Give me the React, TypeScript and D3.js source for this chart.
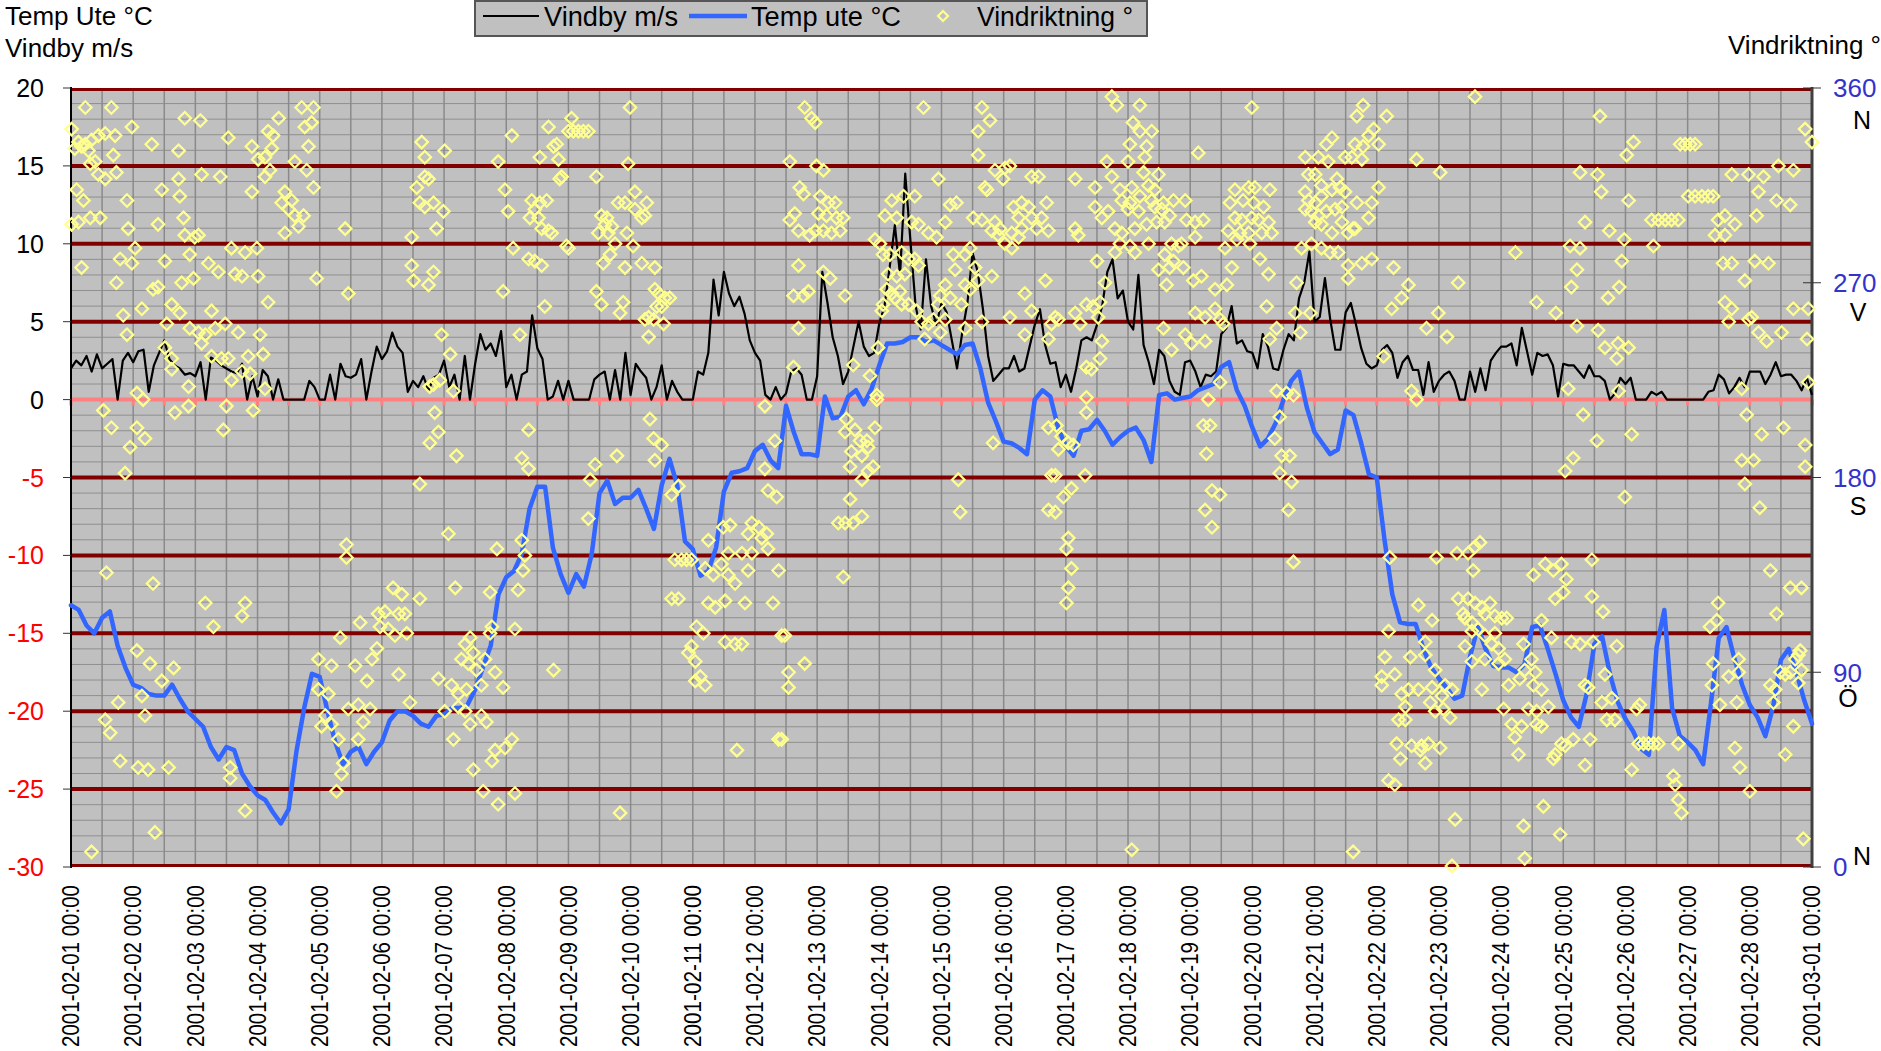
import React, { useEffect, useRef } from 'react';
import * as d3 from 'd3';

// x axis: one label per day, 2001-02-01 .. 2001-03-01
const dayLabels = [
  '2001-02-01 00:00', '2001-02-02 00:00', '2001-02-03 00:00', '2001-02-04 00:00', '2001-02-05 00:00',
  '2001-02-06 00:00', '2001-02-07 00:00', '2001-02-08 00:00', '2001-02-09 00:00', '2001-02-10 00:00',
  '2001-02-11 00:00', '2001-02-12 00:00', '2001-02-13 00:00', '2001-02-14 00:00', '2001-02-15 00:00',
  '2001-02-16 00:00', '2001-02-17 00:00', '2001-02-18 00:00', '2001-02-19 00:00', '2001-02-20 00:00',
  '2001-02-21 00:00', '2001-02-22 00:00', '2001-02-23 00:00', '2001-02-24 00:00', '2001-02-25 00:00',
  '2001-02-26 00:00', '2001-02-27 00:00', '2001-02-28 00:00', '2001-03-01 00:00',
];

const leftTicks = [20, 15, 10, 5, 0, -5, -10, -15, -20, -25, -30];
const majorLines = [15, 10, 5, -5, -10, -15, -20, -25];
const rightTicks = [0, 90, 180, 270, 360];
const compassDeg = [360, 270, 180, 90, 0];
const compassLabels = ['N', 'V', 'S', 'Ö', 'N'];

// Vindby m/s, one value every 2 hours
const WIND_STEP_H = 2;
const windMs = [
  2.0, 2.5, 2.2, 2.8, 1.8, 2.9, 2.0, 2.3, 2.6, 0,
  2.5, 3.0, 2.4, 3.1, 3.2, 0.5, 2.2, 3.0, 3.8, 2.6,
  2.2, 2.0, 1.6, 1.7, 1.5, 2.4, 0, 2.7, 2.5, 2.2,
  2.0, 1.8, 1.7, 2.3, 0, 1.5, 0.2, 1.9, 1.5, 0,
  1.3, 0, 0, 0, 0, 0, 1.2, 0.8, 0, 0,
  1.6, 0, 2.3, 1.5, 1.4, 1.6, 2.6, 0, 1.8, 3.4,
  2.6, 3.1, 4.3, 3.4, 3.0, 0.5, 1.2, 0.8, 1.5, 0.6,
  1.4, 1.6, 2.5, 0.8, 1.6, 0, 2.8, 0, 2.3, 4.2,
  3.2, 3.6, 2.8, 4.4, 0.8, 1.6, 0, 1.6, 1.8, 5.4,
  3.3, 2.6, 0, 0.2, 1.2, 0, 1.2, 0, 0, 0,
  0, 1.3, 1.6, 1.8, 0, 1.9, 0, 3.0, 0.3, 2.3,
  1.8, 1.4, 0, 0.8, 2.2, 0, 1.2, 0.5, 0, 0,
  0, 1.8, 1.6, 3.0, 7.7, 5.4, 8.2, 6.8, 6.0, 6.6,
  5.5, 3.8, 3.0, 2.5, 0.3, 0, 0.8, 0, 0.4, 1.8,
  2.0, 1.6, 0, 0, 1.5, 8.2, 6.2, 4.0, 2.8, 1.0,
  1.8, 3.4, 5.0, 3.4, 2.8, 3.0, 4.9, 6.0, 8.5, 11.2,
  8.0, 14.5, 10.2, 6.0, 4.5, 9.0, 6.0, 4.8, 6.2, 5.6,
  3.8, 2.0, 4.3, 6.2, 9.4, 8.2, 5.8, 2.8, 1.2, 1.6,
  2.0, 2.0, 2.8, 1.8, 2.0, 3.4, 4.8, 5.8, 3.5, 2.3,
  2.4, 0.8, 1.6, 0.5, 2.0, 3.8, 4.0, 3.8, 4.8, 6.0,
  8.2, 9.0, 6.5, 7.0, 5.0, 4.5, 8.0, 3.5, 2.4, 1.0,
  3.2, 2.8, 1.2, 0.5, 0.3, 2.4, 2.5, 1.8, 0.8, 1.6,
  1.5, 1.8, 4.2, 4.6, 6.0, 3.6, 3.8, 3.1, 3.0, 2.0,
  4.2, 3.4, 2.0, 1.9, 3.2, 4.2, 3.8, 6.5, 7.5, 9.5,
  5.0, 5.3, 7.8, 5.2, 3.2, 3.2, 5.6, 6.2, 4.8, 3.3,
  2.3, 2.0, 2.2, 3.2, 3.5, 3.0, 1.4, 2.4, 2.8, 1.9,
  1.9, 0.3, 2.4, 0.5, 1.2, 1.6, 1.8, 1.2, 0, 0,
  1.8, 0.5, 2.0, 0.6, 2.5, 3.0, 3.4, 3.4, 3.6, 2.2,
  4.6, 3.1, 1.6, 3.0, 2.8, 2.9, 2.2, 0.2, 2.3, 2.2,
  2.2, 1.8, 1.4, 2.2, 1.5, 1.5, 1.2, 0, 0.4, 1.4,
  1.0, 1.4, 0, 0, 0, 0.5, 0.3, 0.5, 0, 0,
  0, 0, 0, 0, 0, 0, 0.5, 0.6, 1.6, 1.3,
  0.4, 0.8, 1.4, 0.8, 1.8, 1.8, 1.8, 1.0, 1.6, 2.4,
  1.5, 1.6, 1.6, 1.2, 0.6, 1.4, 0.3,
];

// Temp ute °C, one value every 3 hours
const TEMP_STEP_H = 3;
const tempC = [
  -13.2, -13.5, -14.5, -15.0, -14.0, -13.6, -15.8, -17.2,
  -18.3, -18.5, -18.9, -19.0, -19.0, -18.3, -19.2, -20.0,
  -20.5, -21.0, -22.3, -23.1, -22.3, -22.5, -24.0, -24.8,
  -25.4, -25.7, -26.5, -27.2, -26.3, -22.6, -19.8, -17.6,
  -17.8, -20.0, -22.0, -23.4, -22.6, -22.3, -23.4, -22.6,
  -22.0, -20.6, -20.0, -20.0, -20.3, -20.8, -21.0, -20.3,
  -20.2, -19.8, -19.8, -19.6, -18.6, -17.2, -15.8, -12.5,
  -11.4, -11.0, -9.9, -7.0, -5.6, -5.6, -9.5, -11.2,
  -12.4, -11.2, -12.0, -9.9, -6.0, -5.2, -6.7, -6.3,
  -6.3, -5.8, -7.0, -8.3, -5.5, -3.8, -5.5, -9.1,
  -9.6, -11.3, -11.0, -9.5, -5.9, -4.7, -4.6, -4.4,
  -3.3, -2.9, -3.9, -4.4, -0.4, -2.1, -3.5, -3.5,
  -3.6, 0.2, -1.2, -1.1, 0.2, 0.6, -0.3, 0.7,
  2.2, 3.6, 3.6, 3.7, 4.0, 4.0, 3.7, 3.8,
  3.5, 3.2, 2.9, 3.5, 3.6, 2.0, -0.2, -1.4,
  -2.7, -2.8, -3.1, -3.5, 0.0, 0.6, 0.2, -1.8,
  -3.0, -3.6, -2.0, -1.9, -1.3, -2.0, -2.9, -2.4,
  -2.0, -1.8, -2.6, -4.0, 0.3, 0.4, 0.0, 0.1,
  0.2, 0.6, 0.8, 1.0, 2.1, 2.4, 0.6, -0.4,
  -1.8, -3.0, -2.5, -1.5, 0.0, 1.2, 1.8, -0.5,
  -2.1, -2.8, -3.5, -3.2, -0.7, -1.0, -2.8, -4.8,
  -5.0, -9.0, -12.5, -14.3, -14.4, -14.4, -16.0, -17.2,
  -17.9, -18.5, -19.2, -19.0, -16.5, -14.6, -16.0, -17.1,
  -17.2, -17.2, -17.5, -17.0, -14.6, -14.5, -16.0, -17.6,
  -19.3, -20.4, -21.0, -18.9, -15.7, -15.2, -17.6, -19.4,
  -20.5, -21.3, -22.4, -22.8, -15.9, -13.5, -19.8, -21.6,
  -22.0, -22.5, -23.4, -19.5, -15.3, -14.6, -16.6, -18.3,
  -19.6, -20.4, -21.6, -19.7, -16.7, -16.0, -17.5, -19.3,
  -20.8,
];

// Vindriktning °: [day since 2001-02-01, degrees]
const windDir: [number, number][] = [
  [0.23,351],[0.65,351],[0.01,341],[0.98,342],[1.83,346],[2.08,345],[2.53,337],[0.12,335],[0.23,334],[0.33,336],
  [0.44,338],[0.55,339],[0.71,338],[0.06,332],[0.17,333],[0.28,331],[0.39,326],[0.68,329],[1.30,334],[1.73,331],
  [2.91,333],[3.01,327],[3.17,340],[3.25,338],[3.34,346],[3.23,332],[3.12,328],[3.71,351],[3.90,351],[3.76,342],
  [3.87,344],[3.82,333],[3.60,326],[3.79,322],[0.31,325],[0.44,320],[0.55,318],[0.73,321],[2.10,320],[2.40,319],
  [3.20,322],[3.12,319],[3.90,314],[0.09,313],[0.20,308],[0.90,308],[1.46,313],[1.73,318],[1.75,310],[2.91,312],
  [3.44,312],[3.39,307],[3.55,308],[3.50,304],[3.60,301],[3.66,296],[3.74,301],[3.44,293],[4.41,295],[5.48,291],
  [0.01,297],[0.12,298],[0.31,300],[0.47,300],[0.92,295],[1.40,297],[1.81,300],[1.83,292],[1.99,291],[2.05,292],
  [1.03,286],[0.17,277],[0.79,281],[0.98,279],[1.51,280],[1.91,283],[2.21,279],[2.37,275],[2.58,286],[2.80,284],
  [2.99,286],[2.64,274],[2.75,273],[3.01,273],[0.73,270],[1.32,267],[1.40,268],[1.78,270],[1.97,272],[3.17,261],
  [3.95,272],[4.46,265],[5.48,278],[5.51,271],[1.62,260],[1.75,256],[1.14,258],[0.84,255],[0.90,246],[1.54,251],
  [2.26,257],[1.91,249],[2.05,247],[2.16,246],[2.32,249],[2.48,251],[2.69,247],[3.04,246],[1.51,240],[1.62,235],
  [2.10,242],[2.26,236],[2.42,235],[2.53,235],[2.85,236],[3.09,237],[1.62,230],[2.58,225],[2.75,229],[2.88,228],
  [3.12,221],[1.89,222],[1.06,219],[1.16,216],[0.52,211],[1.67,210],[1.89,213],[2.50,213],[2.93,211],[0.65,203],
  [1.06,203],[1.19,198],[0.95,194],[2.45,202],[0.87,182],[4.43,149],[4.43,143],[0.57,136],[1.32,131],[2.16,122],
  [2.80,122],[2.75,116],[2.29,111],[5.18,129],[5.32,126],[4.94,117],[5.05,118],[5.27,117],[5.37,117],[4.65,113],
  [4.97,111],[5.10,110],[5.21,107],[5.40,108],[4.33,106],[1.06,100],[1.27,94],[1.65,92],[1.46,86],[1.14,79],
  [0.76,76],[1.19,70],[3.98,96],[4.19,93],[4.57,93],[4.84,96],[4.76,86],[4.92,101],[5.27,89],[3.98,82],
  [4.14,80],[4.09,70],[4.19,66],[4.46,73],[4.62,75],[4.81,73],[4.03,65],[4.30,59],[4.62,59],[4.70,67],
  [5.45,76],[0.55,68],[0.63,62],[0.79,49],[1.08,46],[1.24,45],[1.57,46],[2.56,46],[2.56,41],[4.38,48],
  [4.35,43],[4.27,35],[2.80,26],[1.35,16],[0.33,7],
  [8.05,346],[7.68,342],[7.09,338],[8.00,340],[8.08,340],[8.16,340],[8.24,340],[8.32,340],[7.81,334],[7.76,333],
  [7.84,327],[7.54,328],[8.99,351],[8.96,325],[5.64,335],[5.69,328],[6.01,331],[6.87,326],[8.45,319],[7.89,319],
  [7.86,318],[5.75,318],[5.69,319],[5.56,314],[5.61,307],[5.69,305],[5.83,307],[5.99,303],[5.88,295],[6.98,313],
  [7.03,303],[7.41,308],[7.54,307],[7.65,308],[7.46,304],[7.38,300],[7.52,300],[7.57,295],[7.68,294],[7.73,293],
  [8.80,307],[8.91,307],[9.07,312],[9.26,307],[9.07,304],[9.18,300],[9.23,301],[8.53,301],[8.62,300],[8.59,297],
  [8.70,296],[8.48,293],[8.64,293],[8.75,288],[8.94,293],[9.04,287],[7.11,286],[7.97,287],[8.00,286],[5.83,275],
  [5.75,269],[7.36,281],[7.46,280],[7.57,278],[8.56,279],[8.67,283],[8.91,277],[9.18,279],[9.39,277],[6.95,266],
  [7.62,259],[8.45,266],[8.53,260],[8.88,261],[8.83,256],[9.39,267],[9.45,265],[9.55,263],[9.63,263],[9.42,259],
  [9.50,259],[9.29,254],[9.23,253],[9.37,253],[9.53,251],[5.96,246],[7.22,246],[9.29,245],[6.10,237],[5.93,225],
  [5.83,223],[6.15,220],[5.77,222],[5.85,210],[5.91,201],[5.77,196],[6.20,190],[7.36,202],[7.25,189],[7.36,184],
  [8.35,179],[8.43,186],[8.78,190],[9.31,207],[9.37,198],[9.50,195],[9.39,188],[9.66,172],[9.77,176],[5.61,177],
  [6.07,154],[8.32,161],[6.85,147],[7.25,151],[7.30,144],[7.27,137],[9.71,142],[9.82,142],[9.90,142],[9.98,142],
  [10.25,151],[10.49,157],[10.60,158],[10.89,154],[10.95,159],[11.06,157],[11.11,152],[10.57,145],[10.79,145],[10.95,145],
  [10.20,138],[10.33,135],[10.46,140],[10.57,135],[10.68,131],[10.89,137],[5.61,124],[6.18,129],[6.74,127],[7.19,128],
  [9.66,124],[9.77,124],[10.25,122],[10.36,120],[10.52,123],[10.84,122],[10.06,111],[10.17,108],[7.14,110],[6.77,111],
  [6.74,108],[6.42,106],[6.34,103],[10.52,104],[10.68,103],[10.79,103],[9.93,99],[9.98,102],[10.04,95],[10.12,88],
  [10.04,86],[10.20,84],[7.76,91],[6.95,83],[6.60,84],[6.28,96],[6.39,94],[6.47,99],[6.52,91],[6.66,96],
  [6.82,90],[5.91,87],[6.12,84],[6.23,80],[6.36,82],[6.01,72],[6.23,74],[6.34,72],[6.60,70],[6.68,67],
  [6.42,66],[6.15,59],[6.82,54],[7.09,59],[6.98,55],[6.77,49],[6.47,45],[6.63,35],[6.87,29],[7.14,34],
  [10.71,54],[8.83,25],
  [11.80,351],[11.91,346],[11.97,344],[13.71,351],[14.65,351],[14.78,345],[14.59,340],[14.59,329],[11.56,326],[11.99,324],
  [12.10,322],[13.95,318],[14.86,322],[15.02,323],[15.10,324],[14.99,318],[15.45,319],[15.56,319],[16.15,318],[16.66,326],
  [16.74,319],[16.74,356],[16.82,352],[16.47,314],[11.72,314],[11.78,311],[11.64,302],[11.56,299],[11.70,294],[12.05,310],
  [12.18,307],[12.29,307],[12.02,302],[12.15,301],[12.31,300],[12.42,300],[11.97,294],[12.10,294],[12.23,293],[12.37,294],
  [11.88,292],[13.20,308],[13.39,310],[13.57,310],[13.09,301],[13.28,300],[13.52,298],[13.63,297],[13.79,293],[13.92,291],
  [14.06,298],[14.14,306],[14.24,307],[14.51,300],[14.65,299],[14.73,313],[14.70,314],[14.86,298],[14.94,295],[15.16,305],
  [15.29,307],[15.40,305],[15.69,307],[15.61,300],[15.24,300],[15.45,300],[15.53,295],[15.29,295],[15.13,293],[15.24,291],
  [15.02,288],[14.91,292],[14.81,294],[15.13,286],[15.72,294],[16.15,295],[16.20,292],[16.47,305],[16.58,300],[16.68,303],
  [16.79,295],[16.79,284],[16.50,280],[12.93,290],[13.01,288],[13.06,283],[13.17,283],[13.36,284],[13.47,281],[13.57,281],
  [13.63,278],[13.41,274],[13.28,273],[13.14,274],[13.12,267],[13.20,265],[13.33,266],[13.25,263],[13.36,260],[13.47,260],
  [13.60,257],[13.68,252],[13.79,251],[13.95,260],[13.98,264],[14.06,269],[14.14,263],[14.22,276],[14.19,283],[14.38,283],
  [14.46,286],[14.54,277],[14.59,271],[14.46,267],[14.38,269],[14.32,260],[14.38,249],[14.65,252],[13.87,253],[14.06,253],
  [13.98,247],[13.73,244],[13.04,257],[13.06,260],[12.98,240],[11.70,278],[11.86,266],[11.78,264],[11.62,264],[12.45,264],
  [12.10,275],[12.21,272],[11.70,249],[14.81,273],[15.34,265],[15.45,257],[15.67,271],[15.88,253],[15.72,244],[15.77,251],
  [15.10,254],[15.34,246],[15.83,254],[16.15,256],[16.23,251],[16.33,260],[16.44,259],[16.52,254],[16.63,270],[16.55,261],
  [16.58,243],[16.55,235],[16.41,230],[16.33,231],[16.33,217],[16.33,210],[11.62,231],[12.58,232],[12.85,227],[12.96,218],
  [12.96,216],[11.16,213],[11.32,197],[12.47,207],[12.45,201],[12.61,202],[12.69,197],[12.80,197],[12.93,203],[12.55,192],
  [12.72,190],[12.82,194],[12.90,185],[12.72,179],[12.53,185],[12.82,183],[11.16,184],[11.21,174],[11.35,171],[12.53,170],
  [12.45,159],[12.58,159],[12.34,159],[12.72,162],[14.83,196],[15.72,203],[15.85,204],[15.93,199],[15.88,193],[16.04,196],
  [16.12,195],[14.27,179],[14.30,164],[15.77,181],[15.83,181],[16.31,181],[15.96,171],[16.09,175],[15.72,165],[15.83,164],
  [11.19,154],[11.21,147],[11.38,137],[11.29,122],[12.42,134],[16.04,152],[16.01,147],[16.09,138],[16.04,129],[16.01,122],
  [11.43,107],[11.48,107],[11.54,90],[11.80,94],[11.54,83],[11.38,59],[11.43,59],
  [17.19,352],[18.99,351],[17.08,344],[17.19,340],[17.38,340],[17.03,334],[17.30,333],[17.00,326],[17.27,328],[18.13,330],
  [17.25,321],[17.49,320],[16.87,313],[17.06,314],[17.33,315],[17.43,313],[16.90,308],[17.03,307],[17.19,310],[17.38,308],
  [17.57,307],[17.73,308],[17.92,308],[17.00,304],[17.17,303],[17.43,305],[17.54,304],[17.67,301],[16.90,293],[17.11,295],
  [17.30,297],[17.46,298],[17.59,298],[17.94,299],[18.08,298],[18.21,299],[16.87,288],[17.03,287],[17.33,288],[17.70,288],
  [17.81,287],[17.86,288],[18.08,291],[17.11,284],[17.59,283],[17.73,280],[17.49,276],[17.67,277],[17.89,277],[17.62,269],
  [18.05,271],[18.18,273],[18.67,277],[18.40,267],[18.59,269],[18.72,313],[18.94,314],[19.04,314],[19.28,313],[18.64,307],
  [18.85,308],[19.02,307],[19.18,305],[18.72,300],[18.83,299],[18.99,300],[19.10,299],[19.26,298],[18.61,294],[18.80,293],
  [18.94,293],[19.15,293],[19.31,293],[18.56,286],[18.75,290],[18.96,288],[19.12,281],[19.26,274],[18.08,256],[18.24,254],
  [18.40,258],[18.48,253],[18.53,251],[17.57,249],[17.92,246],[18.02,242],[18.24,243],[17.70,239],[19.23,259],[19.39,249],
  [19.28,244],[19.69,256],[19.77,247],[19.93,256],[19.71,270],[19.85,328],[19.90,320],[20.01,320],[20.11,315],[19.85,312],
  [19.90,308],[20.01,307],[20.11,310],[20.28,313],[19.85,304],[19.95,303],[20.06,301],[20.19,303],[20.33,304],[20.44,305],
  [20.01,298],[20.11,297],[20.28,293],[20.44,298],[20.54,293],[20.65,295],[19.79,286],[19.95,288],[20.11,286],[20.25,284],
  [20.38,284],[20.54,278],[20.76,279],[20.92,281],[20.28,337],[20.19,334],[20.06,328],[20.22,326],[20.49,328],[20.60,328],
  [20.76,327],[20.65,334],[20.78,333],[20.87,338],[20.95,341],[21.03,334],[20.68,347],[20.78,352],[21.16,347],[20.36,318],
  [20.41,314],[20.49,312],[20.68,307],[20.92,307],[21.03,314],[20.87,300],[20.62,295],[20.54,272],[21.27,277],[21.51,269],
  [21.40,263],[21.24,258],[22.31,270],[21.64,327],[22.02,321],[21.80,249],[21.99,256],[22.13,245],[21.11,236],[21.56,220],
  [21.64,216],[18.48,224],[18.29,216],[18.21,204],[18.32,204],[19.39,220],[19.55,219],[19.66,218],[19.44,208],[19.36,198],
  [19.47,190],[19.60,190],[19.44,182],[19.63,178],[18.26,191],[18.35,174],[18.48,172],[18.24,165],[18.35,157],[19.58,165],
  [19.66,141],[21.21,143],[21.96,143],[22.29,145],[21.67,121],[21.89,114],[22.31,124],[22.39,117],[21.19,109],[21.78,104],
  [21.13,97],[21.54,97],[21.29,89],[21.08,88],[21.08,84],[21.78,98],[21.94,91],[22.10,84],[22.21,82],[21.89,83],
  [22.05,79],[21.86,76],[21.94,72],[22.07,73],[22.18,69],[21.40,80],[21.51,82],[21.67,82],[21.46,74],[21.35,68],
  [21.46,68],[21.32,57],[21.38,50],[21.56,56],[21.72,56],[21.83,57],[22.02,55],[21.78,48],[21.70,54],[21.19,40],
  [21.29,38],[22.26,22],[17.06,8],[20.62,7],[22.21,0.5],
  [22.58,356],[24.59,347],[25.13,335],[25.02,329],[24.27,321],[24.55,320],[24.61,312],[25.05,308],[24.35,298],[24.74,294],
  [24.98,290],[25.45,287],[24.11,287],[24.27,286],[24.22,276],[24.94,280],[23.23,284],[24.13,268],[24.90,268],[24.72,263],
  [23.57,261],[23.88,256],[24.22,250],[24.56,248],[24.67,240],[24.88,242],[25.05,240],[24.86,235],[24.08,221],[24.89,220],
  [24.32,209],[24.54,197],[25.10,200],[24.03,183],[24.16,189],[24.99,171],
  [25.88,334],[25.96,334],[26.04,334],[26.12,334],
  [26.01,310],[26.12,310],[26.23,310],[26.33,310],[26.41,310],
  [25.42,299],[25.53,299],[25.64,299],[25.74,299],[25.85,299],
  [26.71,320],[26.98,320],[27.22,319],[27.46,324],[27.70,322],[27.14,312],[27.43,308],[27.65,306],[27.11,301],[26.49,299],
  [26.60,301],[26.76,297],[26.44,292],[26.60,292],[26.57,279],[26.71,279],[27.08,280],[27.30,279],[26.92,271],[26.60,261],
  [26.71,258],[26.66,252],[26.98,253],[27.03,254],[27.14,247],[27.27,243],[27.51,247],[27.70,258],[27.94,258],[27.92,244],
  [27.89,341],[28.00,335],[26.87,221],[26.95,209],[27.19,200],[27.54,203],[26.87,188],[27.06,188],[26.92,177],[27.16,166],
  [27.89,195],[27.89,185],[27.94,224],
  [22.47,145],[22.58,148],[22.66,150],[22.55,137],[23.52,135],[23.71,140],[23.84,137],[23.97,140],[24.05,133],[24.46,142],
  [23.87,124],[24.00,127],[24.46,125],[24.64,118],[22.47,124],[22.58,122],[22.69,120],[22.42,115],[22.53,113],[22.74,117],
  [22.82,122],[22.90,116],[23.01,115],[23.09,115],[22.63,110],[22.74,107],[22.85,103],[22.96,101],[23.06,96],[22.53,109],
  [22.90,108],[22.42,102],[22.53,95],[22.74,96],[22.96,94],[23.12,84],[23.30,87],[23.38,91],[23.55,90],[23.49,96],
  [23.65,114],[23.36,103],[23.52,84],[23.65,82],[23.81,106],[24.13,104],[24.27,103],[24.48,104],[24.86,102],[24.67,89],
  [24.35,84],[24.40,83],[24.78,78],[24.62,76],[25.18,73],[25.23,75],[24.83,68],[24.70,68],[22.69,82],[23.04,73],
  [23.17,66],[23.33,65],[23.22,60],[23.28,52],[23.44,73],[23.57,72],[23.76,74],[23.57,66],[23.65,65],[23.87,52],
  [23.97,57],[24.16,59],[24.43,59],[24.35,47],[24.03,56],[23.84,50],[25.10,45],
  [25.21,57],[25.29,57],[25.37,57],[25.45,57],[25.53,57],
  [25.85,57],[25.77,42],[25.80,38],[25.85,31],[25.90,25],[23.68,28],[23.36,19],[23.38,4],[23.95,15],[26.49,122],
  [26.36,111],[26.47,114],[26.41,94],[26.39,84],[26.66,88],[26.82,96],[26.82,90],[26.52,75],[26.79,76],[26.76,55],
  [26.84,46],[27.00,35],[27.33,137],[27.43,117],[27.33,84],[27.41,82],[27.49,90],[27.38,76],[27.57,89],[27.65,90],
  [27.73,96],[27.78,98],[27.81,100],[27.78,85],[27.83,91],[27.70,65],[27.57,52],[27.65,129],[27.83,129],[27.86,13],
];

const legendItems = ['Vindby m/s', 'Temp ute °C', 'Vindriktning °'];

const W = 1881;
const H = 1051;
const FONT = '"Liberation Sans", Arial, Helvetica, sans-serif';

export default function App() {
  const svgRef = useRef<SVGSVGElement>(null);

  useEffect(() => {
    if (!svgRef.current) return;
    document.body.style.margin = '0';
    const svg = d3.select(svgRef.current);
    svg.selectAll('*').remove();

    const plot = { left: 71, right: 1812, top: 88, bottom: 867 };
    const days = dayLabels.length - 1;

    const x = d3.scaleLinear().domain([0, days]).range([plot.left, plot.right]);
    const y = d3.scaleLinear().domain([-30, 20]).range([plot.bottom, plot.top]);
    const y2 = d3.scaleLinear().domain([0, 360]).range([plot.bottom, plot.top]);

    // plot background
    svg.append('rect')
      .attr('x', plot.left).attr('y', plot.top)
      .attr('width', plot.right - plot.left).attr('height', plot.bottom - plot.top)
      .attr('fill', '#c0c0c0');

    // minor grid, every 1 unit and every 12 h
    svg.append('g').selectAll('line')
      .data(d3.range(-29, 20))
      .join('line')
      .attr('x1', plot.left).attr('x2', plot.right)
      .attr('y1', d => y(d)).attr('y2', d => y(d))
      .attr('stroke', '#8f8f8f').attr('stroke-width', 1);

    svg.append('g').selectAll('line')
      .data(d3.range(0.5, days, 0.5))
      .join('line')
      .attr('x1', d => x(d)).attr('x2', d => x(d))
      .attr('y1', plot.top).attr('y2', plot.bottom)
      .attr('stroke', '#8a8a8a').attr('stroke-width', 1.5);

    // major grid
    svg.append('g').selectAll('line')
      .data(majorLines)
      .join('line')
      .attr('x1', plot.left).attr('x2', plot.right)
      .attr('y1', d => y(d)).attr('y2', d => y(d))
      .attr('stroke', '#800000').attr('stroke-width', 4);

    svg.append('g').selectAll('line')
      .data([20, -30])
      .join('line')
      .attr('x1', plot.left).attr('x2', plot.right)
      .attr('y1', d => y(d) + (d > 0 ? 1.5 : -1.5)).attr('y2', d => y(d) + (d > 0 ? 1.5 : -1.5))
      .attr('stroke', '#800000').attr('stroke-width', 3);

    // category axis at 0 (pink) with half-day ticks
    svg.append('line')
      .attr('x1', plot.left).attr('x2', plot.right)
      .attr('y1', y(0)).attr('y2', y(0))
      .attr('stroke', '#ff8080').attr('stroke-width', 4);
    svg.append('g').selectAll('line')
      .data(d3.range(0, days + 0.01, 0.5))
      .join('line')
      .attr('x1', d => x(d)).attr('x2', d => x(d))
      .attr('y1', y(0)).attr('y2', y(0) + 6)
      .attr('stroke', '#ff8080').attr('stroke-width', 3);

    // left axis
    svg.append('line')
      .attr('x1', plot.left).attr('x2', plot.left)
      .attr('y1', plot.top - 1).attr('y2', plot.bottom + 1)
      .attr('stroke', '#000').attr('stroke-width', 2);
    svg.append('g').selectAll('line')
      .data(leftTicks)
      .join('line')
      .attr('x1', plot.left - 8).attr('x2', plot.left)
      .attr('y1', d => y(d)).attr('y2', d => y(d))
      .attr('stroke', '#333').attr('stroke-width', 1);
    svg.append('g').selectAll('text')
      .data(leftTicks)
      .join('text')
      .attr('x', 44).attr('y', d => y(d)).attr('dy', '0.36em')
      .attr('text-anchor', 'end')
      .attr('font-family', FONT).attr('font-size', 25)
      .attr('fill', d => (d < 0 ? '#ff0000' : '#000'))
      .text(d => String(d));

    // right axis
    svg.append('line')
      .attr('x1', plot.right).attr('x2', plot.right)
      .attr('y1', plot.top - 1).attr('y2', plot.bottom + 1)
      .attr('stroke', '#404040').attr('stroke-width', 3);
    svg.append('g').selectAll('line')
      .data(rightTicks)
      .join('line')
      .attr('x1', plot.right - 9).attr('x2', plot.right + 9)
      .attr('y1', d => y2(d)).attr('y2', d => y2(d))
      .attr('stroke', '#333').attr('stroke-width', 1);
    svg.append('g').selectAll('text')
      .data(rightTicks)
      .join('text')
      .attr('x', plot.right + 21).attr('y', d => y2(d)).attr('dy', '0.36em')
      .attr('font-family', FONT).attr('font-size', 26)
      .attr('fill', '#3333cc')
      .text(d => String(d));

    // compass letters beside the right ticks
    const compassOffset: Record<number, [number, number]> = {
      360: [1862, 41], 270: [1858, 38], 180: [1858, 37], 90: [1848, 35], 0: [1862, -2],
    };
    svg.append('g').selectAll('text')
      .data(compassDeg.map((deg, i) => ({ deg, label: compassLabels[i] })))
      .join('text')
      .attr('x', d => compassOffset[d.deg][0])
      .attr('y', d => y2(d.deg) + compassOffset[d.deg][1])
      .attr('text-anchor', 'middle')
      .attr('font-family', FONT).attr('font-size', 25)
      .attr('fill', '#000')
      .text(d => d.label);

    // x labels, rotated
    svg.append('g').selectAll('text')
      .data(dayLabels)
      .join('text')
      .attr('transform', (_, i) => `translate(${x(i)},885) rotate(-90)`)
      .attr('dy', '0.36em')
      .attr('text-anchor', 'end')
      .attr('font-family', FONT).attr('font-size', 23)
      .attr('textLength', 162).attr('lengthAdjust', 'spacingAndGlyphs')
      .attr('fill', '#000')
      .text(d => d);

    // series
    const windLine = d3.line<number>()
      .x((_, i) => x((i * WIND_STEP_H) / 24))
      .y(d => y(d));
    svg.append('path')
      .datum(windMs)
      .attr('fill', 'none')
      .attr('stroke', '#000')
      .attr('stroke-width', 2.2)
      .attr('stroke-linejoin', 'round')
      .attr('d', windLine);

    const tempLine = d3.line<number>()
      .x((_, i) => x((i * TEMP_STEP_H) / 24))
      .y(d => y(d));
    svg.append('path')
      .datum(tempC)
      .attr('fill', 'none')
      .attr('stroke', '#3366ff')
      .attr('stroke-width', 4.5)
      .attr('stroke-linejoin', 'round')
      .attr('stroke-linecap', 'round')
      .attr('d', tempLine);

    const diamond = d3.symbol().type(d3.symbolSquare).size(78);
    svg.append('g').selectAll('path')
      .data(windDir)
      .join('path')
      .attr('transform', d => `translate(${x(d[0])},${y2(d[1])}) rotate(45)`)
      .attr('d', diamond)
      .attr('fill', 'none')
      .attr('stroke', '#ffff8f')
      .attr('stroke-width', 2.2);

    // axis titles
    svg.append('text').attr('x', 5).attr('y', 25)
      .attr('font-family', FONT).attr('font-size', 26).text('Temp Ute °C');
    svg.append('text').attr('x', 5).attr('y', 57)
      .attr('font-family', FONT).attr('font-size', 26).text('Vindby m/s');
    svg.append('text').attr('x', 1728).attr('y', 54)
      .attr('font-family', FONT).attr('font-size', 26).text('Vindriktning °');

    // legend
    const lg = svg.append('g');
    lg.append('rect')
      .attr('x', 475).attr('y', 1).attr('width', 672).attr('height', 35)
      .attr('fill', '#c0c0c0').attr('stroke', '#555').attr('stroke-width', 2);
    lg.append('line').attr('x1', 483).attr('x2', 539).attr('y1', 16).attr('y2', 16)
      .attr('stroke', '#000').attr('stroke-width', 2);
    lg.append('line').attr('x1', 689).attr('x2', 747).attr('y1', 16).attr('y2', 16)
      .attr('stroke', '#3366ff').attr('stroke-width', 4.5);
    lg.append('path').attr('transform', 'translate(943,16) rotate(45)')
      .attr('d', d3.symbol().type(d3.symbolSquare).size(50)).attr('fill', 'none')
      .attr('stroke', '#ffff8f').attr('stroke-width', 2.2);
    const legendPos: [number, number][] = [[544, 134], [751, 150], [977, 156]];
    lg.selectAll('text')
      .data(legendItems)
      .join('text')
      .attr('x', (_, i) => legendPos[i][0]).attr('y', 26)
      .attr('font-family', FONT).attr('font-size', 27)
      .attr('textLength', (_, i) => legendPos[i][1]).attr('lengthAdjust', 'spacingAndGlyphs')
      .text(d => d);
  }, []);

  return (
    <svg
      ref={svgRef}
      width={W}
      height={H}
      style={{ position: 'absolute', left: 0, top: 0, display: 'block', background: '#fff' }}
    />
  );
}
